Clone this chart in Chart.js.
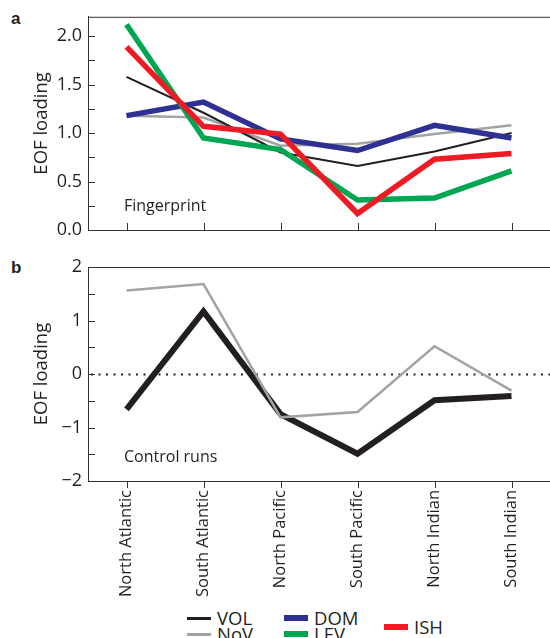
<!DOCTYPE html>
<html>
<head>
<meta charset="utf-8">
<script src="https://cdn.jsdelivr.net/npm/chart.js@4.4.1/dist/chart.umd.min.js"></script>
<style>
  html, body { margin: 0; padding: 0; background: #fff; }
  body { width: 550px; height: 638px; overflow: hidden; position: relative;
         font-family: "Open Sans", "Liberation Sans", sans-serif; color: #231f20; }
  .panel { position: absolute; left: 0; width: 550px; }
  #wrapA { top: 0; height: 250px; }
  #wrapB { top: 250px; height: 350px; }
  .tag { position: absolute; left: 11px; font: bold 17px "Liberation Sans", sans-serif; line-height: 1; }
  .key { position: absolute; height: 0; }
  .key i { position: absolute; left: 0; width: 24px; }
  .key span { position: absolute; left: 30px; font-size: 18.5px; line-height: 1; transform: translateY(-50%); white-space: nowrap; }
</style>
</head>
<body>
<div class="tag" style="top:10px">a</div>
<div class="tag" style="top:259px">b</div>
<div class="panel" id="wrapA"><canvas id="chartA"></canvas></div>
<div class="panel" id="wrapB"><canvas id="chartB"></canvas></div>

<div class="key" style="left:187px;top:618px"><i style="height:3px;top:-1.5px;background:#231f20"></i><span>VOL</span></div>
<div class="key" style="left:187px;top:634px"><i style="height:3px;top:-1.5px;background:#a3a3a3"></i><span>NoV</span></div>
<div class="key" style="left:284px;top:618px"><i style="height:6px;top:-3px;background:#2e3192"></i><span>DOM</span></div>
<div class="key" style="left:284px;top:634px"><i style="height:6px;top:-3px;background:#00a651"></i><span>LEV</span></div>
<div class="key" style="left:384px;top:627px"><i style="height:6px;top:-3px;background:#ed1c24"></i><span>ISH</span></div>

<script>
// Ocean basins along the x axis
const regions = ['North Atlantic', 'South Atlantic', 'North Pacific', 'South Pacific', 'North Indian', 'South Indian'];

// Panel a: fingerprint EOF loadings per forcing run
const fpVOL = [1.58, 1.21, 0.80, 0.66, 0.81, 1.00];
const fpNoV = [1.18, 1.16, 0.87, 0.89, 0.99, 1.08];
const fpDOM = [1.18, 1.32, 0.94, 0.82, 1.08, 0.95];
const fpLEV = [2.12, 0.95, 0.83, 0.31, 0.33, 0.61];
const fpISH = [1.89, 1.07, 0.99, 0.17, 0.73, 0.79];

// Panel b: control-run EOF loadings
const ctlVOL = [-0.66, 1.17, -0.75, -1.49, -0.49, -0.41];
const ctlNoV = [1.56, 1.68, -0.81, -0.71, 0.52, -0.31];

// Axis ticks
const fpTicks = [0, 0.5, 1.0, 1.5, 2.0];
const fpMinor = [0.25, 0.75, 1.25, 1.75];
const ctlTicks = [-2, -1, 0, 1, 2];
const ctlMinor = [-1.5, -0.5, 0.5, 1.5];

const INK = '#231f20';
const FONT = '"Open Sans", "Liberation Sans", sans-serif';
Chart.defaults.font.family = FONT;
Chart.defaults.color = INK;

// Frame, inward/outward tick marks, caption and optional zero line
const framePlugin = {
  id: 'frame',
  beforeDatasetsDraw(chart, args, o) {
    if (!o.zeroLine) return;
    const { ctx, chartArea: a, scales: { y } } = chart;
    const py = Math.round(y.getPixelForValue(0)) + 0.5;
    ctx.save();
    ctx.strokeStyle = INK;
    ctx.lineWidth = 2;
    ctx.setLineDash([2, 5.5]);
    ctx.beginPath(); ctx.moveTo(a.left + 3, py); ctx.lineTo(a.right, py); ctx.stroke();
    ctx.restore();
  },
  afterDraw(chart, args, o) {
    const { ctx, chartArea: a, scales: { x, y } } = chart;
    ctx.save();
    ctx.strokeStyle = '#333';
    ctx.lineWidth = 1;
    const seg = (x1, y1, x2, y2) => { ctx.beginPath(); ctx.moveTo(x1, y1); ctx.lineTo(x2, y2); ctx.stroke(); };
    seg(a.left, a.top + 0.5, a.right, a.top + 0.5);
    o.major.concat(o.minor).forEach(v => {
      const py = Math.round(y.getPixelForValue(v)) + 0.5;
      seg(a.left, py, a.left + 7, py);
    });
    regions.forEach((r, i) => {
      const px = Math.round(x.getPixelForValue(i)) + 0.5;
      if (o.xTicksOut) seg(px, a.bottom, px, a.bottom + 7);
      else seg(px, a.bottom, px, a.bottom - 7);
    });
    ctx.fillStyle = INK;
    ctx.font = '16px ' + FONT;
    ctx.textBaseline = 'middle';
    ctx.fillText(o.caption, a.left + 36, a.bottom - 24);
    ctx.restore();
  }
};

function line(label, data, color, width) {
  return {
    label, data,
    borderColor: color, backgroundColor: color,
    borderWidth: width, pointRadius: 0,
    borderJoinStyle: 'miter', borderCapStyle: 'butt',
    tension: 0, fill: false
  };
}

function yAxis(min, max, ticks, fmt) {
  return {
    min, max,
    afterBuildTicks: s => { s.ticks = ticks.map(v => ({ value: v })); },
    afterFit: s => { s.width = 88; },
    ticks: { callback: fmt, font: { size: 18 }, color: INK, padding: 6 },
    grid: { display: false, drawTicks: false },
    border: { display: true, color: '#333', width: 1 },
    title: { display: true, text: 'EOF loading', font: { size: 18.5 }, color: INK, padding: { top: 31, bottom: 0 } }
  };
}

const common = {
  responsive: false,
  animation: false,
  plugins: { legend: { display: false }, tooltip: { enabled: false } }
};

function makeCanvas(id, w, h) {
  const c = document.getElementById(id);
  c.width = w; c.height = h;
  c.style.width = w + 'px'; c.style.height = h + 'px';
  return c;
}

new Chart(makeCanvas('chartA', 550, 250), {
  type: 'line',
  data: {
    labels: regions,
    datasets: [
      line('ISH', fpISH, '#ed1c24', 5.5),
      line('LEV', fpLEV, '#00a651', 5.5),
      line('DOM', fpDOM, '#2e3192', 5.5),
      line('VOL', fpVOL, INK, 2),
      line('NoV', fpNoV, '#a3a3a3', 2.5)
    ]
  },
  options: Object.assign({}, common, {
    layout: { padding: { top: 14, right: 0, left: 0, bottom: 0 } },
    scales: {
      x: {
        type: 'category', offset: true,
        ticks: { display: false },
        grid: { display: false, drawTicks: false },
        border: { display: true, color: '#333', width: 1 },
        afterFit: s => { s.height = 20; }
      },
      y: yAxis(0, 2.2, fpTicks, v => v.toFixed(1))
    },
    plugins: Object.assign({}, common.plugins, {
      frame: { major: fpTicks, minor: fpMinor, xTicksOut: false, caption: 'Fingerprint', zeroLine: false }
    })
  }),
  plugins: [framePlugin]
});

new Chart(makeCanvas('chartB', 550, 350), {
  type: 'line',
  data: {
    labels: regions,
    datasets: [
      line('NoV', ctlNoV, '#a3a3a3', 2.5),
      line('VOL', ctlVOL, INK, 6)
    ]
  },
  options: Object.assign({}, common, {
    layout: { padding: { top: 17, right: 0, left: 0, bottom: 0 } },
    scales: {
      x: {
        type: 'category', offset: true,
        ticks: { autoSkip: false, minRotation: 90, maxRotation: 90, font: { size: 16.5 }, color: INK, padding: 9 },
        grid: { display: false, drawTicks: false },
        border: { display: true, color: '#333', width: 1 },
        afterFit: s => { s.height = 119; }
      },
      y: yAxis(-2, 2, ctlTicks, v => v < 0 ? '\u2212' + Math.abs(v) : String(v))
    },
    plugins: Object.assign({}, common.plugins, {
      frame: { major: ctlTicks, minor: ctlMinor, xTicksOut: true, caption: 'Control runs', zeroLine: true }
    })
  }),
  plugins: [framePlugin]
});
</script>
</body>
</html>
